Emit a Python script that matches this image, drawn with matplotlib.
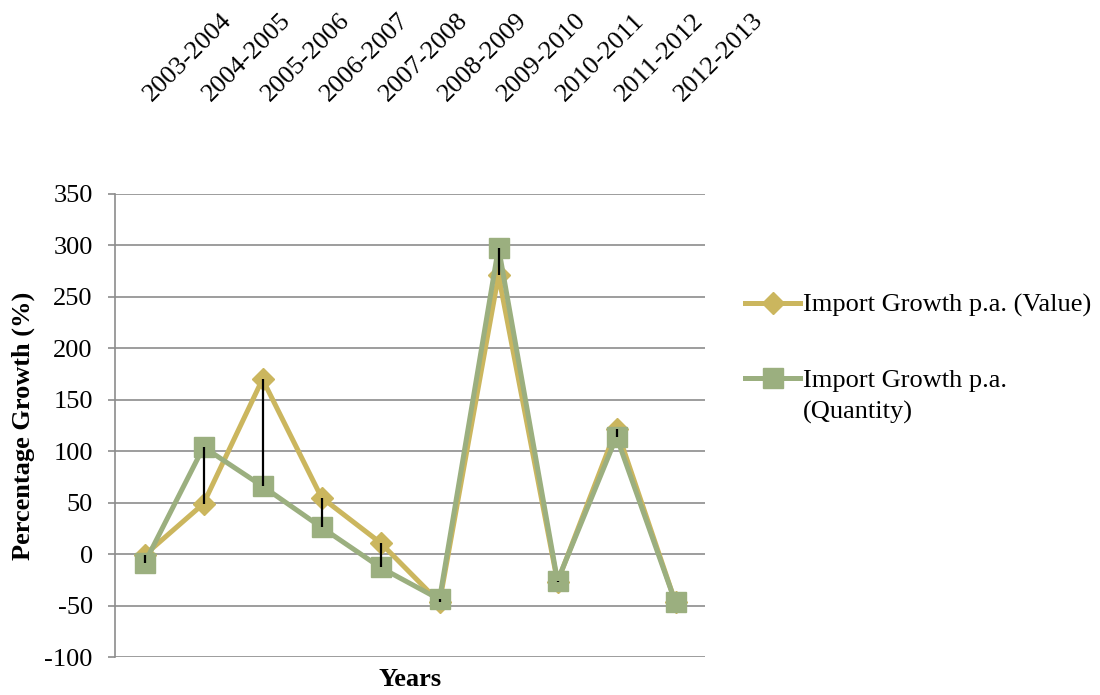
import matplotlib
matplotlib.use("Agg")
import matplotlib.pyplot as plt
from matplotlib.lines import Line2D
from matplotlib.transforms import ScaledTranslation

# Import growth per annum, by financial year
years = ["2003-2004", "2004-2005", "2005-2006", "2006-2007", "2007-2008",
         "2008-2009", "2009-2010", "2010-2011", "2011-2012", "2012-2013"]
growth_value = [-1, 49, 170, 55, 11, -47, 271, -27, 122, -47]
growth_quantity = [-9, 104, 66, 26, -13, -44, 298, -26, 114, -47]
y_ticks = [-100, -50, 0, 50, 100, 150, 200, 250, 300, 350]
series_names = ["Import Growth p.a. (Value)", "Import Growth p.a.\n(Quantity)"]

GOLD = "#CBB65E"
GREEN = "#9BAF7F"
GRID = "#8C8C8C"
FS = 19

plt.rcParams["font.family"] = ["Liberation Serif", "DejaVu Serif"]
plt.rcParams["font.size"] = FS
plt.rcParams["axes.unicode_minus"] = False

W, H = 1100, 695
fig = plt.figure(figsize=(W / 100, H / 100), dpi=100)
ax = fig.add_axes([115 / W, 1 - 657 / H, 590 / W, 463 / H])

x = list(range(len(years)))
styles = [dict(color=GOLD, marker="D", ms=11, zorder=3),
          dict(color=GREEN, marker="s", ms=14, zorder=4)]

for vals, st in zip([growth_value, growth_quantity], styles):
    ax.plot(x, vals, lw=3.6, mec=st["color"], mfc=st["color"], **st)

# high-low lines between the two series
lows = [min(a, b) for a, b in zip(growth_value, growth_quantity)]
highs = [max(a, b) for a, b in zip(growth_value, growth_quantity)]
ax.vlines(x, lows, highs, color="black", lw=1.6, zorder=5)

ax.set_xlim(-0.5, len(years) - 0.5)
ax.set_ylim(-100, 350)
ax.set_yticks(y_ticks)
ax.yaxis.grid(True, color=GRID, lw=1.2)
ax.set_axisbelow(True)

for side in ("top", "right", "bottom"):
    ax.spines[side].set_visible(False)
ax.spines["left"].set_color(GRID)
ax.spines["left"].set_linewidth(1.2)
ax.tick_params(axis="y", length=5, width=1.2, color=GRID, pad=11)

# category labels sit above the plot
ax.set_xticks(x)
ax.tick_params(axis="x", top=True, labeltop=True, bottom=False,
               labelbottom=False, length=0, pad=64)
ax.set_xticklabels(years, rotation=45, ha="left", va="bottom")
shift = ScaledTranslation(-5 / 100, 0, fig.dpi_scale_trans)
for lab in ax.get_xticklabels():
    lab.set_transform(lab.get_transform() + shift)

ax.set_ylabel("Percentage Growth (%)", fontweight="bold", va="center")
ax.yaxis.set_label_coords(-92 / 590, 0.5)
ax.xaxis.set_label_position("bottom")
ax.set_xlabel("Years", fontweight="bold", va="center")
ax.xaxis.set_label_coords(0.5, -22 / 463)

# legend: handle aligned with the first line of each entry
legend_rows = [303, 378]
for name, st, yrow in zip(series_names, styles, legend_rows):
    yf = 1 - yrow / H
    fig.add_artist(Line2D([745 / W, 800 / W], [yf, yf], transform=fig.transFigure,
                          color=st["color"], lw=3.6, zorder=3))
    fig.add_artist(Line2D([772.5 / W], [yf], transform=fig.transFigure,
                          color=st["color"], marker=st["marker"], lw=0,
                          ms=st["ms"], mec=st["color"], mfc=st["color"]))
    for i, line in enumerate(name.split("\n")):
        fig.text(803 / W, 1 - (yrow + 32 * i) / H, line, ha="left",
                 va="center_baseline", fontsize=FS)

fig.savefig("out.png", dpi=100)
